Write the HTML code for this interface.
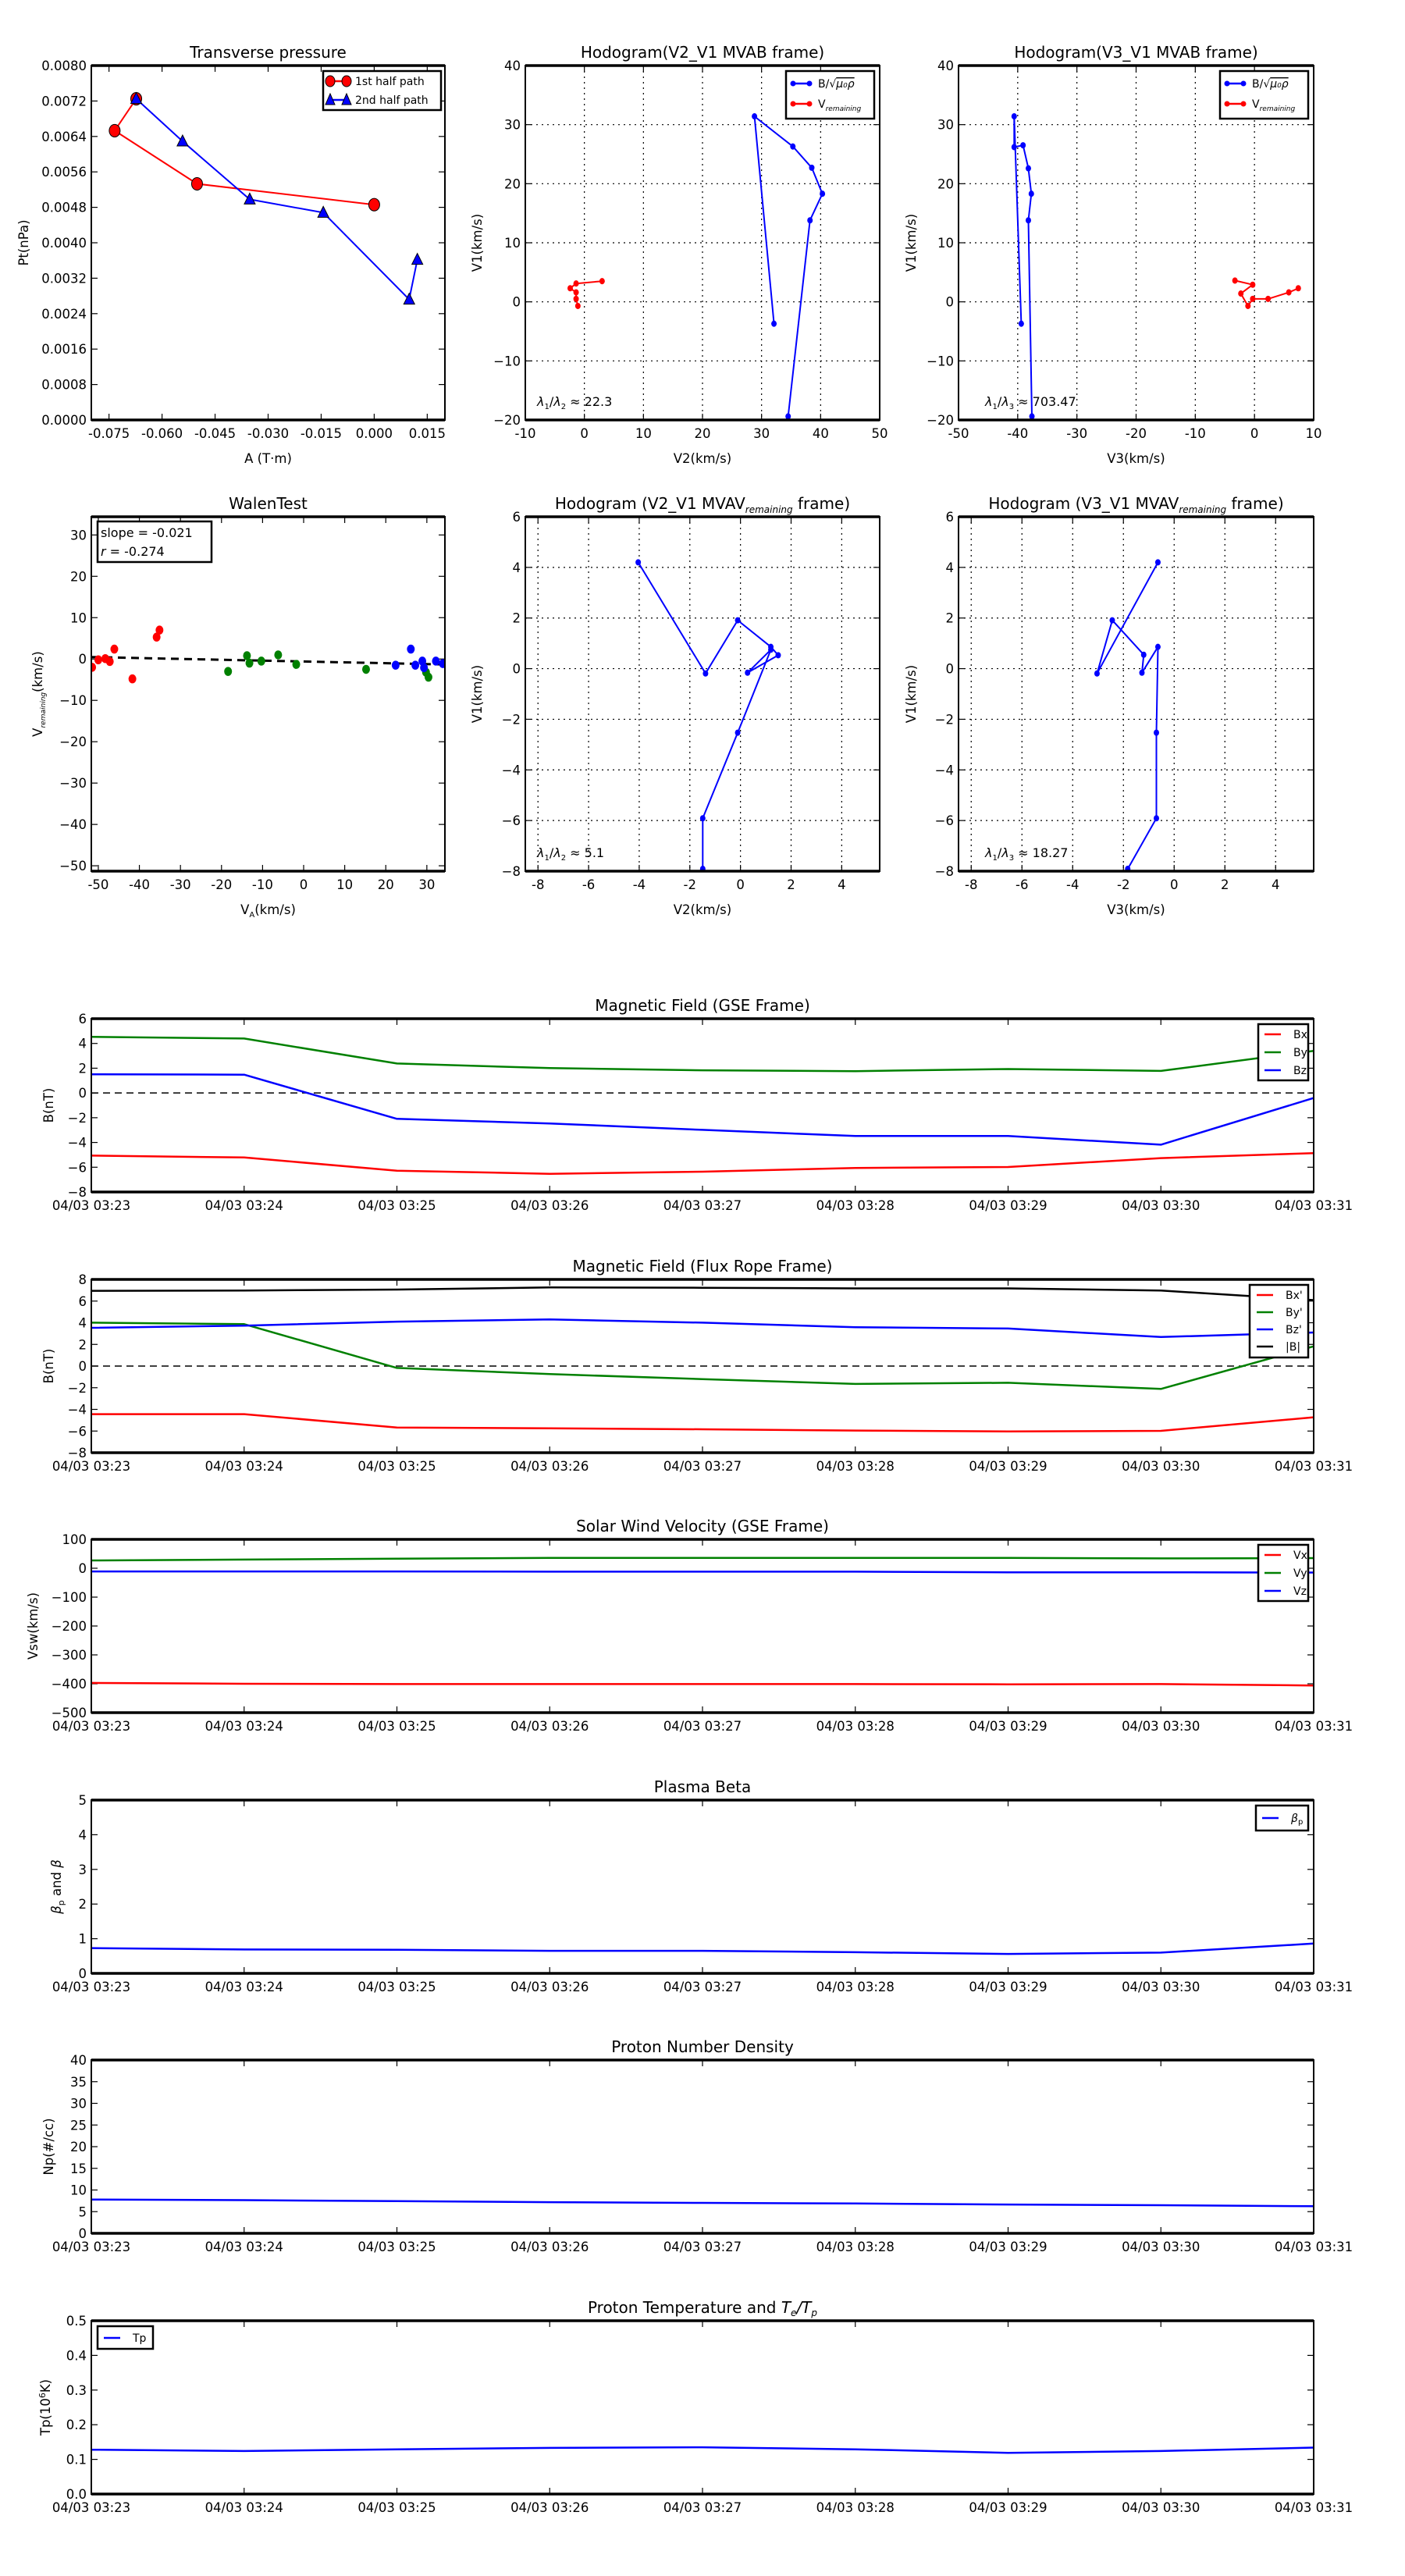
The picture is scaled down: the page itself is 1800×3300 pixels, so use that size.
<!DOCTYPE html>
<html><head><meta charset="utf-8"><title>Flux rope analysis</title>
<style>
html,body{margin:0;padding:0;background:#fff;}
svg{display:block;font-family:"DejaVu Sans","Liberation Sans",sans-serif;}
</style></head>
<body>
<svg id="fig" xmlns="http://www.w3.org/2000/svg" width="1800" height="3300" viewBox="0 0 1800 3300"></svg>
<script>
// ---- Transverse pressure ----
const tp1A=[-0.0673,-0.0734,-0.0501,0.0];
const tp1P=[0.00725,0.00653,0.00533,0.00486];
const tp2A=[-0.0673,-0.0542,-0.0352,-0.0144,0.0099,0.0122];
const tp2P=[0.00725,0.00629,0.00498,0.00468,0.00272,0.00362];
// ---- Hodograms MVAB ----
const hbV2=[32.1,28.8,35.3,38.5,40.3,38.2,34.5,33.0];
const hbV1=[-3.7,31.4,26.3,22.7,18.3,13.8,-19.4,-22.0];
const hrV2=[3.0,-1.4,-2.4,-1.4,-1.4,-1.1];
const hrV1=[3.5,3.1,2.3,1.6,0.5,-0.7];
const hbV3=[-39.4,-40.6,-40.6,-39.1,-38.2,-37.7,-38.2,-37.6,-37.6];
const hbV1b=[-3.7,31.4,26.2,26.5,22.6,18.3,13.8,-19.4,-22.0];
const hrV3=[-3.3,-0.3,-2.3,-1.1,-0.3,2.3,5.8,7.4];
const hrV1b=[3.6,2.9,1.4,-0.7,0.5,0.5,1.6,2.3];
// ---- Walen test ----
const wRedX=[-51.5,-50,-48.3,-47.2,-46.1,-41.7,-35.8,-35.1];
const wRedY=[-2.0,-0.2,0.1,-0.6,2.4,-4.8,5.3,7.0];
const wGrnX=[-18.4,-13.8,-13.2,-10.3,-6.2,-1.8,15.2,29.8,30.4];
const wGrnY=[-3.0,0.8,-1.0,-0.5,1.0,-1.3,-2.5,-3.2,-4.4];
const wBluX=[26.1,22.4,27.2,28.9,29.3,32.2,33.9];
const wBluY=[2.4,-1.5,-1.5,-0.5,-2.1,-0.5,-1.1];
const wSlope=-0.021, wIntercept=-0.6;
// ---- Hodograms MVAV ----
const mvV2=[-4.04,-1.38,-0.11,1.2,1.49,0.28,1.2,-0.11,-1.49,-1.49];
const mvV1=[4.2,-0.19,1.91,0.86,0.53,-0.16,0.75,-2.53,-5.91,-7.91];
const mvV3=[-0.64,-3.04,-2.44,-1.2,-1.27,-0.64,-0.7,-0.7,-1.83];
const mvV1b=[4.2,-0.19,1.91,0.55,-0.16,0.86,-2.53,-5.91,-7.91];
// ---- Time series ----
const timeLabels=["04/03 03:23","04/03 03:24","04/03 03:25","04/03 03:26","04/03 03:27","04/03 03:28","04/03 03:29","04/03 03:30","04/03 03:31"];
const Bx=[-5.06,-5.21,-6.28,-6.53,-6.36,-6.06,-5.98,-5.26,-4.86];
const By=[4.53,4.40,2.38,2.01,1.83,1.76,1.93,1.78,3.4];
const Bz=[1.51,1.48,-2.09,-2.46,-2.98,-3.48,-3.48,-4.18,-0.41];
const Bxp=[-4.44,-4.44,-5.67,-5.75,-5.84,-5.95,-6.04,-5.98,-4.73];
const Byp=[4.01,3.87,-0.17,-0.74,-1.20,-1.65,-1.54,-2.11,1.82];
const Bzp=[3.53,3.73,4.10,4.30,4.01,3.59,3.47,2.68,3.10];
const Bmag=[6.95,6.98,7.06,7.26,7.23,7.17,7.17,6.98,6.09];
const Vx=[-397,-400,-401,-401,-401,-401,-402,-401,-406];
const Vy=[27,30,33,36,36,36,36,34,35];
const Vz=[-11,-11,-11,-12,-12,-12,-14,-14,-15];
const betaP=[0.73,0.69,0.68,0.65,0.65,0.61,0.56,0.60,0.86];
const Np=[7.8,7.66,7.42,7.19,7.03,6.88,6.64,6.48,6.25];
const Tp=[0.128,0.124,0.129,0.133,0.135,0.129,0.119,0.124,0.134];

const NS='http://www.w3.org/2000/svg';
const svg=document.getElementById('fig');
function mk(tag,attrs,parent){const e=document.createElementNS(NS,tag);for(const k in attrs)e.setAttribute(k,attrs[k]);(parent||svg).appendChild(e);return e;}
let clipN=0;
function range(a,b,s){const r=[];for(let v=a;v<=b+s*1e-6;v+=s)r.push(+v.toFixed(6));return r;}

function axes(o){
  const g=mk('g',{});
  
  
  const sx=v=>o.x0+(v-o.xlim[0])/(o.xlim[1]-o.xlim[0])*(o.x1-o.x0);
  const sy=v=>o.y1-(v-o.ylim[0])/(o.ylim[1]-o.ylim[0])*(o.y1-o.y0);
  const id='c'+(clipN++);
  const cp=mk('clipPath',{id:id},g);
  mk('rect',{x:o.x0,y:o.y0,width:o.x1-o.x0,height:o.y1-o.y0},cp);
  if(o.grid){
    o.xticks.forEach(v=>{const l=mk('line',{x1:sx(v),x2:sx(v),y1:o.y0,y2:o.y1,stroke:'#000','stroke-width':1.2,'stroke-dasharray':'2,5'},g);
      });
    o.yticks.forEach(v=>{const l=mk('line',{x1:o.x0,x2:o.x1,y1:sy(v),y2:sy(v),stroke:'#000','stroke-width':1.2,'stroke-dasharray':'2,5'},g);
      });
  }
  o.xticks.forEach((v,i)=>{const x=sx(v);
    mk('line',{x1:x,x2:x,y1:o.y1,y2:o.y1-8,stroke:'#000','stroke-width':1.2},g);
    mk('line',{x1:x,x2:x,y1:o.y0,y2:o.y0+8,stroke:'#000','stroke-width':1.2},g);
    const t=mk('text',{x:x,y:o.y1+23,'text-anchor':'middle','font-size':16.5},g);
    t.textContent=o.xlab?o.xlab[i]:o.xfmt(v);
    
    
  });
  o.yticks.forEach(v=>{const y=sy(v);
    mk('line',{x1:o.x0,x2:o.x0+8,y1:y,y2:y,stroke:'#000','stroke-width':1.2},g);
    mk('line',{x1:o.x1,x2:o.x1-8,y1:y,y2:y,stroke:'#000','stroke-width':1.2},g);
    const t=mk('text',{x:o.x0-6,y:y+6,'text-anchor':'end','font-size':16.5},g);
    t.textContent=o.yfmt(v).replace('-','\u2212');
    
    
  });
  const tt=mk('text',{x:(o.x0+o.x1)/2,y:o.y0-10,'text-anchor':'middle','font-size':20},g);
  tt.innerHTML=o.title;
  
  
  if(o.xlabel){const t=mk('text',{x:(o.x0+o.x1)/2,y:o.y1+55,'text-anchor':'middle','font-size':16.5},g);
    t.innerHTML=o.xlabel;
    
    }
  if(o.ylabel){const cx=o.ylx,cy=(o.y0+o.y1)/2;
    const t=mk('text',{x:cx,y:cy,'text-anchor':'middle','font-size':16.5,transform:`rotate(-90 ${cx} ${cy}) translate(0 6)`},g);
    t.innerHTML=o.ylabel;
    
    }
  const plot=mk('g',{'clip-path':`url(#${id})`},g);
  
  
  const frame=()=>{
    mk('rect',{x:o.x0,y:o.y0,width:o.x1-o.x0,height:o.y1-o.y0,fill:'none',stroke:'#000','stroke-width':2},g);
    mk('line',{x1:o.x0,x2:o.x1,y1:o.y0,y2:o.y0,stroke:'#000','stroke-width':3.5},g);
    mk('line',{x1:o.x0,x2:o.x1,y1:o.y1,y2:o.y1,stroke:'#000','stroke-width':3.5},g);
  };
  return {g,plot,sx,sy,frame};
}
function line(ax,xs,ys,color,w,name,dash){
  const d=xs.map((x,i)=>(i?'L':'M')+ax.sx(x).toFixed(1)+','+ax.sy(ys[i]).toFixed(1)).join('');
  const p=mk('path',{d:d,fill:'none',stroke:color,'stroke-width':w,'stroke-linejoin':'round'},ax.plot);
  if(dash)p.setAttribute('stroke-dasharray',dash);
  
  
  return p;
}
function dots(ax,xs,ys,color,r,name,tri){
  xs.forEach((x,i)=>{const cx=ax.sx(x),cy=ax.sy(ys[i]);let m;
    if(tri) m=mk('polygon',{points:`${cx},${cy-8} ${cx-7},${cy+6} ${cx+7},${cy+6}`,fill:color,stroke:'#000','stroke-width':1},ax.plot);
    else m=mk('ellipse',{cx:cx,cy:cy,rx:r,ry:r*1.15,fill:color,stroke:tri===false?'none':'#000','stroke-width':1},ax.plot);
    
    
  });
}
function legendBox(x,y,w,h,name){
  const b=mk('rect',{x:x,y:y,width:w,height:h,fill:'#fff',stroke:'#000','stroke-width':2.5});
  
  
}
function legendEntry(x,y,color,label,name,marker){
  mk('line',{x1:x,x2:x+21,y1:y,y2:y,stroke:color,'stroke-width':2.5});
  if(marker==='dot'){mk('circle',{cx:x,cy:y,r:3.5,fill:color});mk('circle',{cx:x+21,cy:y,r:3.5,fill:color});}
  if(marker==='big'){mk('ellipse',{cx:x,cy:y,rx:6,ry:7,fill:color,stroke:'#000'});mk('ellipse',{cx:x+21,cy:y,rx:6,ry:7,fill:color,stroke:'#000'});}
  if(marker==='tri'){[x,x+21].forEach(c=>mk('polygon',{points:`${c},${y-8} ${c-6},${y+6} ${c+6},${y+6}`,fill:color,stroke:'#000'}));}
  const t=mk('text',{x:x+(marker?32:37),y:y+5,'font-size':14});
  t.innerHTML=label;
  
  
}
const f=(d)=>v=>v.toFixed(d);
const SUBR='V<tspan font-size="9" font-style="italic" dy="4">remaining</tspan>';

// ---- Row 1 ----
let a=axes({name:'transverse-pressure-chart',x0:117,x1:570,y0:84,y1:538,xlim:[-0.08,0.02],ylim:[0,0.008],
  xticks:range(-0.075,0.015,0.015),yticks:range(0,0.008,0.0008),xfmt:v=>v.toFixed(3),yfmt:f(4),
  title:'Transverse pressure',xlabel:'A (T·m)',ylabel:'Pt(nPa)',ylx:30});
line(a,tp1A,tp1P,'#f00',2,'first-half-path-line');dots(a,tp1A,tp1P,'#f00',7,'first-half-point');
line(a,tp2A,tp2P,'#00f',2,'second-half-path-line');dots(a,tp2A,tp2P,'#00f',7,'second-half-point',true);
a.frame();
legendBox(414,91,151,50,'pressure-legend');
legendEntry(423,104,'#f00','1st half path','legend-first-half','big');
legendEntry(423,128,'#00f','2nd half path','legend-second-half','tri');

a=axes({name:'hodogram-v2-v1-mvab',x0:673,x1:1127,y0:84,y1:538,xlim:[-10,50],ylim:[-20,40],grid:true,
  xticks:range(-10,50,10),yticks:range(-20,40,10),xfmt:f(0),yfmt:f(0),
  title:'Hodogram(V2_V1 MVAB frame)',xlabel:'V2(km/s)',ylabel:'V1(km/s)',ylx:611});
line(a,hbV2,hbV1,'#00f',2,'b-hodogram-line');dots(a,hbV2,hbV1,'#00f',3.5,'b-hodogram-point',false);
line(a,hrV2,hrV1,'#f00',2,'v-hodogram-line');dots(a,hrV2,hrV1,'#f00',3.5,'v-hodogram-point',false);
a.frame();
let t=mk('text',{x:688,y:520,'font-size':16});t.innerHTML='<tspan font-style="italic">λ</tspan><tspan font-size="10" dy="4">1</tspan><tspan dy="-4">/</tspan><tspan font-style="italic">λ</tspan><tspan font-size="10" dy="4">2</tspan><tspan dy="-4"> ≈ 22.3</tspan>';


legendBox(1007,91,113,61,'hodogram-legend');
legendEntry(1016,107,'#00f','B/√<tspan text-decoration="overline" font-style="italic">μ₀ρ</tspan>','legend-b','dot');
legendEntry(1016,133,'#f00',SUBR,'legend-v','dot');

a=axes({name:'hodogram-v3-v1-mvab',x0:1228,x1:1683,y0:84,y1:538,xlim:[-50,10],ylim:[-20,40],grid:true,
  xticks:range(-50,10,10),yticks:range(-20,40,10),xfmt:f(0),yfmt:f(0),
  title:'Hodogram(V3_V1 MVAB frame)',xlabel:'V3(km/s)',ylabel:'V1(km/s)',ylx:1167});
line(a,hbV3,hbV1b,'#00f',2,'b-hodogram-line');dots(a,hbV3,hbV1b,'#00f',3.5,'b-hodogram-point',false);
line(a,hrV3,hrV1b,'#f00',2,'v-hodogram-line');dots(a,hrV3,hrV1b,'#f00',3.5,'v-hodogram-point',false);
a.frame();
t=mk('text',{x:1262,y:520,'font-size':16});t.innerHTML='<tspan font-style="italic">λ</tspan><tspan font-size="10" dy="4">1</tspan><tspan dy="-4">/</tspan><tspan font-style="italic">λ</tspan><tspan font-size="10" dy="4">3</tspan><tspan dy="-4"> ≈ 703.47</tspan>';


legendBox(1563,91,113,61,'hodogram-legend');
legendEntry(1572,107,'#00f','B/√<tspan text-decoration="overline" font-style="italic">μ₀ρ</tspan>','legend-b','dot');
legendEntry(1572,133,'#f00',SUBR,'legend-v','dot');

// ---- Row 2 ----
const R2T=662,R2B=1116;
a=axes({name:'walen-test-chart',x0:117,x1:570,y0:R2T,y1:R2B,xlim:[-51.7,34.4],ylim:[-51.3,34.4],
  xticks:range(-50,30,10),yticks:range(-50,30,10),xfmt:f(0),yfmt:f(0),
  title:'WalenTest',xlabel:'V<tspan font-size="10" dy="4">A</tspan><tspan dy="-4">(km/s)</tspan>',ylabel:SUBR+'<tspan dy="-4">(km/s)</tspan>',ylx:48});
line(a,[-51.7,34.4],[wIntercept+wSlope*-51.7,wIntercept+wSlope*34.4],'#000',3,'fit-line','10,7');
dots(a,wRedX,wRedY,'#f00',5,'walen-point-red',false);
dots(a,wGrnX,wGrnY,'#008000',5,'walen-point-green',false);
dots(a,wBluX,wBluY,'#00f',5,'walen-point-blue',false);
a.frame();
legendBox(125,668,146,52,'walen-stats-box');
t=mk('text',{x:129,y:688,'font-size':16});t.textContent='slope = -0.021';


t=mk('text',{x:129,y:712,'font-size':16});t.innerHTML='<tspan font-style="italic">r</tspan> = -0.274';



a=axes({name:'hodogram-v2-v1-mvav',x0:673,x1:1127,y0:R2T,y1:R2B,xlim:[-8.5,5.5],ylim:[-8,6],grid:true,
  xticks:range(-8,4,2),yticks:range(-8,6,2),xfmt:f(0),yfmt:f(0),
  title:'Hodogram (V2_V1 MVAV<tspan font-size="12" font-style="italic" dy="5">remaining</tspan><tspan dy="-5"> frame)</tspan>',xlabel:'V2(km/s)',ylabel:'V1(km/s)',ylx:611});
line(a,mvV2,mvV1,'#00f',2,'v-hodogram-line');dots(a,mvV2,mvV1,'#00f',3.5,'v-hodogram-point',false);
a.frame();
t=mk('text',{x:688,y:1098,'font-size':16});t.innerHTML='<tspan font-style="italic">λ</tspan><tspan font-size="10" dy="4">1</tspan><tspan dy="-4">/</tspan><tspan font-style="italic">λ</tspan><tspan font-size="10" dy="4">2</tspan><tspan dy="-4"> ≈ 5.1</tspan>';



a=axes({name:'hodogram-v3-v1-mvav',x0:1228,x1:1683,y0:R2T,y1:R2B,xlim:[-8.5,5.5],ylim:[-8,6],grid:true,
  xticks:range(-8,4,2),yticks:range(-8,6,2),xfmt:f(0),yfmt:f(0),
  title:'Hodogram (V3_V1 MVAV<tspan font-size="12" font-style="italic" dy="5">remaining</tspan><tspan dy="-5"> frame)</tspan>',xlabel:'V3(km/s)',ylabel:'V1(km/s)',ylx:1167});
line(a,mvV3,mvV1b,'#00f',2,'v-hodogram-line');dots(a,mvV3,mvV1b,'#00f',3.5,'v-hodogram-point',false);
a.frame();
t=mk('text',{x:1262,y:1098,'font-size':16});t.innerHTML='<tspan font-style="italic">λ</tspan><tspan font-size="10" dy="4">1</tspan><tspan dy="-4">/</tspan><tspan font-style="italic">λ</tspan><tspan font-size="10" dy="4">3</tspan><tspan dy="-4"> ≈ 18.27</tspan>';



// ---- Time series panels ----
const idx=[0,1,2,3,4,5,6,7,8];
function panel(name,top,ylim,yticks,yfmt,title,ylabel,ylx){
  return axes({name:name,x0:117,x1:1683,y0:top,y1:top+222,xlim:[0,8],ylim:ylim,xticks:idx,xlab:timeLabels,
    yticks:yticks,xfmt:f(0),yfmt:yfmt,title:title,ylabel:ylabel,ylx:ylx||62});
}
a=panel('magnetic-field-gse-chart',1305,[-8,6],range(-8,6,2),f(0),'Magnetic Field (GSE Frame)','B(nT)');
line(a,[0,8],[0,0],'#000',1.5,'zero-line','9,6');
line(a,idx,Bx,'#f00',2.5,'bx-line');line(a,idx,By,'#008000',2.5,'by-line');line(a,idx,Bz,'#00f',2.5,'bz-line');
a.frame();
legendBox(1612,1312,64,72,'gse-b-legend');
legendEntry(1620,1325,'#f00','Bx','legend-bx');legendEntry(1620,1348,'#008000','By','legend-by');legendEntry(1620,1371,'#00f','Bz','legend-bz');

a=panel('magnetic-field-flux-rope-chart',1639,[-8,8],range(-8,8,2),f(0),'Magnetic Field (Flux Rope Frame)','B(nT)');
line(a,[0,8],[0,0],'#000',1.5,'zero-line','9,6');
line(a,idx,Bxp,'#f00',2.5,'bx-prime-line');line(a,idx,Byp,'#008000',2.5,'by-prime-line');line(a,idx,Bzp,'#00f',2.5,'bz-prime-line');line(a,idx,Bmag,'#000',2.5,'b-magnitude-line');
a.frame();
legendBox(1601,1646,75,93,'flux-rope-legend');
legendEntry(1610,1659,'#f00',"Bx'",'legend-bx-prime');legendEntry(1610,1681,'#008000',"By'",'legend-by-prime');legendEntry(1610,1703,'#00f',"Bz'",'legend-bz-prime');legendEntry(1610,1725,'#000','|B|','legend-b-magnitude');

a=panel('solar-wind-velocity-chart',1972,[-500,100],range(-500,100,100),f(0),'Solar Wind Velocity (GSE Frame)','Vsw(km/s)',42);
line(a,idx,Vx,'#f00',2.5,'vx-line');line(a,idx,Vy,'#008000',2.5,'vy-line');line(a,idx,Vz,'#00f',2.5,'vz-line');
a.frame();
legendBox(1612,1979,64,72,'velocity-legend');
legendEntry(1620,1992,'#f00','Vx','legend-vx');legendEntry(1620,2015,'#008000','Vy','legend-vy');legendEntry(1620,2038,'#00f','Vz','legend-vz');

a=panel('plasma-beta-chart',2306,[0,5],range(0,5,1),f(0),'Plasma Beta','<tspan font-style="italic">β</tspan><tspan font-size="11" dy="4">p</tspan><tspan dy="-4"> and </tspan><tspan font-style="italic">β</tspan>',72);
line(a,idx,betaP,'#00f',2.5,'beta-p-line');
a.frame();
legendBox(1609,2313,67,32,'beta-legend');
legendEntry(1617,2329,'#00f','<tspan font-style="italic">β</tspan><tspan font-size="10" dy="3">p</tspan>','legend-beta-p');

a=panel('proton-density-chart',2639,[0,40],range(0,40,5),f(0),'Proton Number Density','Np(#/cc)');
line(a,idx,Np,'#00f',2.5,'np-line');
a.frame();

a=panel('proton-temperature-chart',2973,[0,0.5],range(0,0.5,0.1),f(1),'Proton Temperature and <tspan font-style="italic">T</tspan><tspan font-size="12" font-style="italic" dy="4">e</tspan><tspan dy="-4" font-style="italic">/T</tspan><tspan font-size="12" font-style="italic" dy="4">p</tspan>','Tp(10<tspan font-size="11" dy="-6">6</tspan><tspan dy="6">K)</tspan>',58);
line(a,idx,Tp,'#00f',2.5,'tp-line');
a.frame();
legendBox(125,2980,71,29,'tp-legend');
legendEntry(133,2995,'#00f','Tp','legend-tp');
</script>
</body></html>
